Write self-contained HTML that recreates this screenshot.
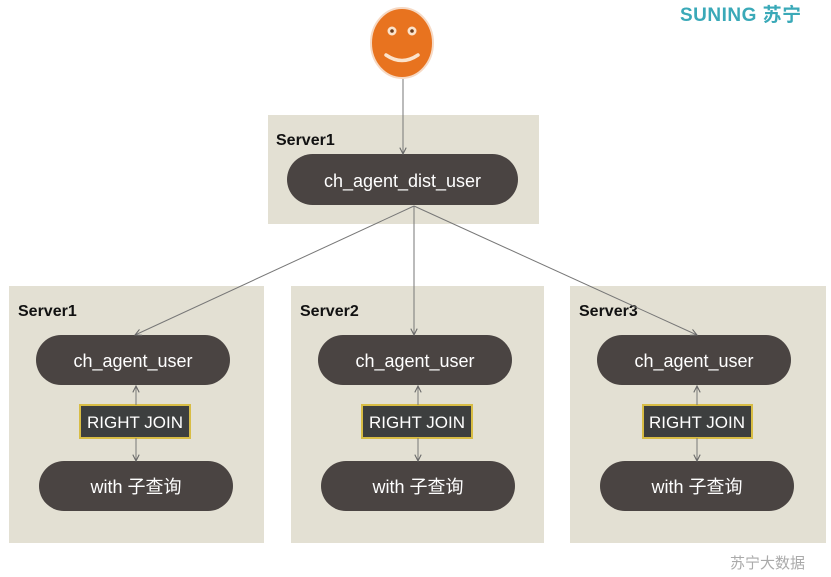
<!DOCTYPE html>
<html><head><meta charset="utf-8"><style>
html,body{margin:0;padding:0;background:#fff;}
svg{display:block;}
text{font-family:"Liberation Sans","Noto Sans CJK SC",sans-serif;}
</style></head><body>
<svg width="831" height="577" viewBox="0 0 831 577" xmlns="http://www.w3.org/2000/svg">
<defs>
<marker id="a" viewBox="0 0 10 10" refX="9" refY="5" markerWidth="8" markerHeight="8" orient="auto-start-reverse" markerUnits="userSpaceOnUse">
<path d="M1,1 L9,5 L1,9" fill="none" stroke="#666" stroke-width="1.3"/></marker>
</defs>
<rect width="831" height="577" fill="#fff"/>
<text x="680" y="21" font-size="19" fill="#3aa9b8" font-weight="bold" letter-spacing="0.5">SUNING 苏宁</text>
<text x="730" y="568" font-size="15" fill="#aaa">苏宁大数据</text>
<!-- smiley -->
<ellipse cx="402" cy="43" rx="31" ry="35" fill="#e8731f" stroke="#f6d9c4" stroke-width="2"/>
<circle cx="392" cy="31" r="4.5" fill="#fbe3cc"/><circle cx="392" cy="31" r="1.8" fill="#6a3a1a"/>
<circle cx="412" cy="31" r="4.5" fill="#fbe3cc"/><circle cx="412" cy="31" r="1.8" fill="#6a3a1a"/>
<path d="M386,55 Q402,66 418,55" fill="none" stroke="#fbe3cc" stroke-width="3.5" stroke-linecap="round"/>
<!-- top server -->
<rect x="268" y="115" width="271" height="109" fill="#e3e0d3"/>
<text x="276" y="145" font-size="16" font-weight="bold" fill="#111">Server1</text>
<rect x="287" y="154" width="231" height="51" rx="25.5" fill="#4a4442"/>
<text x="402.5" y="187" font-size="18" fill="#fff" text-anchor="middle">ch_agent_dist_user</text>
<line x1="403" y1="79" x2="403" y2="154" stroke="#777" marker-end="url(#a)"/>
<!-- bottom servers -->
<g>
<rect x="9" y="286" width="255" height="257" fill="#e3e0d3"/>
<text x="18" y="316" font-size="16" font-weight="bold" fill="#111">Server1</text>
<rect x="36" y="335" width="194" height="50" rx="25" fill="#4a4442"/>
<text x="133" y="367" font-size="18" fill="#fff" text-anchor="middle">ch_agent_user</text>
<rect x="80" y="405" width="110" height="33" fill="#3d3f3f" stroke="#d8bd45" stroke-width="2"/>
<text x="135" y="428" font-size="17" fill="#fff" text-anchor="middle">RIGHT JOIN</text>
<rect x="39" y="461" width="194" height="50" rx="25" fill="#4a4442"/>
<text x="136" y="493" font-size="18" fill="#fff" text-anchor="middle">with 子查询</text>
<line x1="136" y1="405" x2="136" y2="386" stroke="#777" marker-end="url(#a)"/>
<line x1="136" y1="438" x2="136" y2="461" stroke="#777" marker-end="url(#a)"/>
</g>
<g>
<rect x="291" y="286" width="253" height="257" fill="#e3e0d3"/>
<text x="300" y="316" font-size="16" font-weight="bold" fill="#111">Server2</text>
<rect x="318" y="335" width="194" height="50" rx="25" fill="#4a4442"/>
<text x="415" y="367" font-size="18" fill="#fff" text-anchor="middle">ch_agent_user</text>
<rect x="362" y="405" width="110" height="33" fill="#3d3f3f" stroke="#d8bd45" stroke-width="2"/>
<text x="417" y="428" font-size="17" fill="#fff" text-anchor="middle">RIGHT JOIN</text>
<rect x="321" y="461" width="194" height="50" rx="25" fill="#4a4442"/>
<text x="418" y="493" font-size="18" fill="#fff" text-anchor="middle">with 子查询</text>
<line x1="418" y1="405" x2="418" y2="386" stroke="#777" marker-end="url(#a)"/>
<line x1="418" y1="438" x2="418" y2="461" stroke="#777" marker-end="url(#a)"/>
</g>
<g>
<rect x="570" y="286" width="256" height="257" fill="#e3e0d3"/>
<text x="579" y="316" font-size="16" font-weight="bold" fill="#111">Server3</text>
<rect x="597" y="335" width="194" height="50" rx="25" fill="#4a4442"/>
<text x="694" y="367" font-size="18" fill="#fff" text-anchor="middle">ch_agent_user</text>
<rect x="643" y="405" width="109" height="33" fill="#3d3f3f" stroke="#d8bd45" stroke-width="2"/>
<text x="697" y="428" font-size="17" fill="#fff" text-anchor="middle">RIGHT JOIN</text>
<rect x="600" y="461" width="194" height="50" rx="25" fill="#4a4442"/>
<text x="697" y="493" font-size="18" fill="#fff" text-anchor="middle">with 子查询</text>
<line x1="697" y1="405" x2="697" y2="386" stroke="#777" marker-end="url(#a)"/>
<line x1="697" y1="438" x2="697" y2="461" stroke="#777" marker-end="url(#a)"/>
</g>
<!-- fan-out -->
<line x1="414" y1="206" x2="135" y2="335" stroke="#777" marker-end="url(#a)"/>
<line x1="414" y1="206" x2="414" y2="335" stroke="#777" marker-end="url(#a)"/>
<line x1="414" y1="206" x2="697" y2="335" stroke="#777" marker-end="url(#a)"/>
</svg>
</body></html>
